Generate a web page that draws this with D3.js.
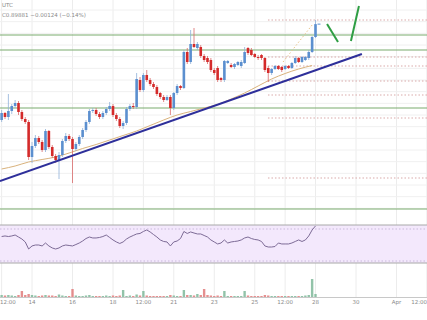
<!DOCTYPE html>
<html>
<head>
<meta charset="utf-8">
<script src="https://cdn.jsdelivr.net/npm/d3@7"></script>
<style>
body { margin: 0; background: #fff; overflow: hidden; }
text { font-family: "DejaVu Sans", sans-serif; }
</style>
</head>
<body>
<svg id="chart"></svg>
<script>
var w = 427;
var h = 320;

// 4h candles, first one 12 Mar 12:00 UTC
var firstCandle = "2023-03-12T12:00Z";
var candleHours = 4;

var opens = [0.755, 0.7655, 0.7595, 0.7685, 0.776, 0.7805, 0.767, 0.7565, 0.752, 0.6995,
  0.716, 0.728, 0.722, 0.710, 0.7385, 0.7145, 0.701, 0.695, 0.7025, 0.7235,
  0.731, 0.7265, 0.7115, 0.719, 0.7295, 0.740, 0.752, 0.7685, 0.770, 0.764,
  0.7595, 0.7655, 0.7715, 0.776, 0.7625, 0.7565, 0.746, 0.7505, 0.7715, 0.776,
  0.7745, 0.815, 0.800, 0.8225, 0.815, 0.809, 0.8045, 0.7955, 0.7895, 0.785,
  0.7895, 0.773, 0.7955, 0.806, 0.803, 0.857, 0.842, 0.869, 0.863, 0.8645,
  0.851, 0.848, 0.845, 0.830, 0.833, 0.818, 0.815, 0.8405, 0.8375, 0.8345,
  0.8375, 0.836, 0.8405, 0.863, 0.860, 0.854, 0.8495, 0.8525, 0.848, 0.833,
  0.8255, 0.8315, 0.836, 0.8345, 0.8315, 0.836, 0.833, 0.8405, 0.848, 0.842,
  0.845, 0.848, 0.857, 0.8795];
var highs = [0.770, 0.767, 0.794, 0.779, 0.785, 0.7835, 0.770, 0.7595, 0.755, 0.722,
  0.7325, 0.731, 0.725, 0.7415, 0.740, 0.7175, 0.704, 0.707, 0.7265, 0.7355,
  0.734, 0.7295, 0.722, 0.7325, 0.743, 0.755, 0.7715, 0.773, 0.773, 0.767,
  0.7685, 0.7745, 0.782, 0.779, 0.7655, 0.7595, 0.7535, 0.7745, 0.779, 0.7805,
  0.8255, 0.8195, 0.8255, 0.830, 0.818, 0.812, 0.8075, 0.797, 0.7925, 0.7925,
  0.7925, 0.797, 0.809, 0.8075, 0.860, 0.863, 0.890, 0.893, 0.872, 0.8675,
  0.854, 0.851, 0.848, 0.833, 0.836, 0.8195, 0.845, 0.845, 0.8405, 0.8405,
  0.8435, 0.845, 0.8645, 0.8645, 0.863, 0.8555, 0.8525, 0.854, 0.8495, 0.836,
  0.833, 0.8375, 0.8375, 0.836, 0.8375, 0.8375, 0.842, 0.851, 0.8495, 0.851,
  0.851, 0.860, 0.881, 0.905];
var lows = [0.752, 0.7565, 0.755, 0.764, 0.773, 0.7625, 0.7535, 0.749, 0.695, 0.6905,
  0.713, 0.719, 0.707, 0.707, 0.7115, 0.698, 0.6905, 0.6665, 0.6995, 0.7205,
  0.7235, 0.6605, 0.7085, 0.716, 0.7265, 0.737, 0.749, 0.7655, 0.761, 0.7565,
  0.7565, 0.7625, 0.7685, 0.7595, 0.7535, 0.743, 0.7415, 0.7475, 0.7685, 0.7715,
  0.7715, 0.797, 0.797, 0.812, 0.806, 0.8015, 0.791, 0.7865, 0.782, 0.7835,
  0.7625, 0.770, 0.7925, 0.800, 0.8015, 0.839, 0.839, 0.863, 0.860, 0.848,
  0.842, 0.839, 0.827, 0.8225, 0.812, 0.812, 0.812, 0.839, 0.833, 0.8315,
  0.836, 0.833, 0.839, 0.8525, 0.851, 0.848, 0.845, 0.845, 0.827, 0.812,
  0.8225, 0.830, 0.830, 0.827, 0.830, 0.8315, 0.8315, 0.839, 0.8405, 0.8405,
  0.8435, 0.845, 0.8555, 0.878];
var closes = [0.7655, 0.7595, 0.7685, 0.776, 0.7805, 0.767, 0.7565, 0.752, 0.6995, 0.716,
  0.728, 0.722, 0.710, 0.7385, 0.7145, 0.701, 0.695, 0.7025, 0.7235, 0.731,
  0.7265, 0.7115, 0.719, 0.7295, 0.740, 0.752, 0.7685, 0.770, 0.764, 0.7595,
  0.7655, 0.7715, 0.776, 0.7625, 0.7565, 0.746, 0.7505, 0.7715, 0.776, 0.7745,
  0.8165, 0.800, 0.8225, 0.815, 0.809, 0.8045, 0.794, 0.7895, 0.785, 0.7895,
  0.773, 0.7955, 0.806, 0.803, 0.857, 0.842, 0.869, 0.8645, 0.869, 0.851,
  0.845, 0.842, 0.830, 0.8255, 0.815, 0.815, 0.8435, 0.8435, 0.8345, 0.839,
  0.842, 0.842, 0.857, 0.8555, 0.8525, 0.8495, 0.848, 0.848, 0.830, 0.8255,
  0.8315, 0.836, 0.8315, 0.830, 0.836, 0.833, 0.8405, 0.848, 0.842, 0.8495,
  0.8495, 0.857, 0.8795, 0.8988];
var volumes = [2, 1.5, 2, 1.5, 1, 2, 6, 2, 3, 2,
  1.5, 1, 1.5, 2, 1.5, 1.5, 1, 2.5, 1.5, 1,
  1, 8, 1.5, 1, 1, 1.5, 2, 1, 1, 1,
  1, 1.5, 1, 1.5, 1, 1.5, 7, 1, 1.5, 1,
  2.5, 1.5, 6, 1.5, 1, 1, 1, 1, 1, 1,
  2, 1.5, 1, 1, 7, 2, 2, 1.5, 3, 2,
  8, 2, 1.5, 1, 1.5, 1, 6, 1, 1, 1,
  1, 1, 6, 1.5, 1, 1, 1, 1, 2, 1.5,
  1, 1, 1, 1, 1, 1, 1, 1, 1, 1,
  1.5, 2, 18, 3];
var rsi = [60.6, 61.3, 60.6, 61.3, 62.5, 60, 57.5, 53.8, 45, 48.8,
  50, 50, 48.8, 52.5, 48.8, 46.3, 45, 46.3, 48.8, 50,
  49.4, 48.8, 50.6, 52.5, 55, 58.1, 60, 58.8, 58.8, 59.4,
  60.6, 62.5, 59.4, 56.3, 53.8, 51.9, 53.8, 57.5, 60, 61.9,
  63.8, 64.4, 66.9, 68.8, 66.3, 63.1, 60, 56.3, 54.4, 53.8,
  48.8, 53.8, 55, 58.1, 66.9, 64.4, 66.3, 65, 63.8, 63.8,
  61.9, 60, 56.3, 53.8, 51.3, 52.5, 56.3, 52.5, 53.8, 54.4,
  55, 56.3, 58.8, 60, 58.1, 56.9, 56.3, 54.4, 48.8, 47.5,
  47.5, 48.1, 52.5, 51.3, 51.3, 51.3, 52.5, 54.4, 56.3, 54.4,
  56.3, 61.3, 68.8, 73.8];

// moving average, read every 4th candle
var maIndex = [0, 4, 8, 12, 16, 20, 24, 28, 32, 36, 40, 44, 48, 52, 56, 60, 64, 68, 72, 76, 80, 84, 88, 92];
var maValues = [0.6815, 0.686, 0.692, 0.69575, 0.6995, 0.7055, 0.71225, 0.71825, 0.725, 0.73175,
  0.7385, 0.74675, 0.755, 0.7625, 0.76775, 0.773, 0.77825, 0.7865, 0.7955, 0.806,
  0.8165, 0.82475, 0.8315, 0.83675];

// drawings
var greenLevels = [0.8825, 0.860, 0.773, 0.6215];
var fibStart = "2023-03-25T15:40Z";
var fibLevels = [0.905, 0.8495, 0.836, 0.8135, 0.7925, 0.758, 0.668];
var trendLine = [["2023-03-12T10:00Z", 0.6635], ["2023-03-30T07:00Z", 0.854]];
var dotLine = [["2023-03-26T09:30Z", 0.842], ["2023-03-27T20:00Z", 0.8975]];
var arrowDown = [["2023-03-28T13:40Z", 0.899], ["2023-03-29T02:40Z", 0.872]];
var arrowUp = [["2023-03-29T18:00Z", 0.8735], ["2023-03-30T03:30Z", 0.926]];

var tickDates = ["2023-03-12T12:00Z", "2023-03-14T00:00Z", "2023-03-16T00:00Z", "2023-03-18T00:00Z",
  "2023-03-19T12:00Z", "2023-03-21T00:00Z", "2023-03-23T00:00Z", "2023-03-25T00:00Z",
  "2023-03-26T12:00Z", "2023-03-28T00:00Z", "2023-03-30T00:00Z", "2023-04-01T00:00Z", "2023-04-02T12:00Z"];
var tickLabels = ["12:00", "14", "16", "18", "12:00", "21", "23", "25", "12:00", "28", "30", "Apr", "12:00"];

var svg, x, y, yRsi, yVol;

drawChart();

function candleDate(i) {
    return new Date(new Date(firstCandle).getTime() + i * candleHours * 3600 * 1000);
}

function drawChart() {
    svg = d3.select("#chart")
        .attr("width", w)
        .attr("height", h);

    svg.append("rect")
        .attr("width", w)
        .attr("height", h)
        .attr("fill", "#fff");

    x = d3.scaleUtc()
        .domain([new Date("2023-03-14T00:00Z"), new Date("2023-04-01T00:00Z")])
        .range([32, 396.5]);
    y = d3.scaleLinear().domain([0.62, 0.935]).range([210, 0]);
    yRsi = d3.scaleLinear().domain([27.5, 75]).range([263, 225]);
    yVol = d3.scaleLinear().domain([0, 20]).range([297, 277]);

    // grid
    var grid = svg.append("g");
    grid.selectAll(".vg")
        .data(tickDates)
        .enter().append("line")
        .attr("x1", function(d) { return x(new Date(d)); })
        .attr("x2", function(d) { return x(new Date(d)); })
        .attr("y1", 0)
        .attr("y2", 297)
        .attr("stroke", "#ececec")
        .attr("stroke-width", 1);
    grid.selectAll(".hg")
        .data(d3.range(0.6225, 0.93, 0.0175))
        .enter().append("line")
        .attr("x1", 0)
        .attr("x2", w)
        .attr("y1", function(d) { return y(d); })
        .attr("y2", function(d) { return y(d); })
        .attr("stroke", "#f0f0f0")
        .attr("stroke-width", 1);

    // horizontal green levels
    svg.selectAll(".lvl")
        .data(greenLevels)
        .enter().append("line")
        .attr("x1", 0)
        .attr("x2", w)
        .attr("y1", function(d) { return y(d); })
        .attr("y2", function(d) { return y(d); })
        .attr("stroke", "#7bab6e")
        .attr("stroke-width", 1.2);

    // dotted levels on the right
    svg.selectAll(".fib")
        .data(fibLevels)
        .enter().append("line")
        .attr("x1", x(new Date(fibStart)))
        .attr("x2", w)
        .attr("y1", function(d) { return y(d); })
        .attr("y2", function(d) { return y(d); })
        .attr("stroke", "#d9a9a9")
        .attr("stroke-width", 1)
        .attr("stroke-dasharray", "1.5,2");

    var lineGen = d3.line()
        .x(function(d) { return x(new Date(d[0])); })
        .y(function(d) { return y(d[1]); });

    // moving average
    var maLine = d3.line()
        .x(function(d, i) { return x(candleDate(maIndex[i])); })
        .y(function(d) { return y(d); })
        .curve(d3.curveMonotoneX);
    svg.append("path")
        .attr("d", maLine(maValues))
        .attr("fill", "none")
        .attr("stroke", "#d9b27c")
        .attr("stroke-width", 1);

    svg.append("path")
        .attr("d", lineGen(dotLine))
        .attr("fill", "none")
        .attr("stroke", "#e8c48a")
        .attr("stroke-width", 1)
        .attr("stroke-dasharray", "1.5,2");

    // candles
    var bw = 2.6;
    var candles = svg.append("g");
    for (var i = 0; i < closes.length; i++) {
        var up = closes[i] >= opens[i];
        var col = up ? "#5b8fcf" : "#d42a2a";
        var cx = x(candleDate(i));
        candles.append("line")
            .attr("x1", cx).attr("x2", cx)
            .attr("y1", y(highs[i])).attr("y2", y(lows[i]))
            .attr("stroke", up ? "#8fb0d8" : "#d96a6a")
            .attr("stroke-width", 0.8);
        candles.append("rect")
            .attr("x", cx - bw / 2)
            .attr("y", y(Math.max(opens[i], closes[i])))
            .attr("width", bw)
            .attr("height", Math.max(1, Math.abs(y(opens[i]) - y(closes[i]))))
            .attr("fill", col);
    }
    var last = closes.length - 1;
    svg.append("line")
        .attr("x1", x(candleDate(last)) + 2)
        .attr("x2", x(candleDate(last)) + 5)
        .attr("y1", y(closes[last]))
        .attr("y2", y(closes[last]))
        .attr("stroke", "#5b8fcf")
        .attr("stroke-width", 1);

    // trend line
    svg.append("path")
        .attr("d", lineGen(trendLine))
        .attr("fill", "none")
        .attr("stroke", "#2e2f9a")
        .attr("stroke-width", 2);

    // projected path
    svg.selectAll(".arrow")
        .data([arrowDown, arrowUp])
        .enter().append("path")
        .attr("d", function(d) { return lineGen(d); })
        .attr("fill", "none")
        .attr("stroke", "#2f9e44")
        .attr("stroke-width", 2);

    // RSI pane
    svg.append("rect")
        .attr("x", 0)
        .attr("y", yRsi(75))
        .attr("width", w)
        .attr("height", yRsi(27.5) - yRsi(75))
        .attr("fill", "#f3e8fc");
    [75, 27.5].forEach(function(v) {
        svg.append("line")
            .attr("x1", 0).attr("x2", w)
            .attr("y1", yRsi(v)).attr("y2", yRsi(v))
            .attr("stroke", "#a8a8a8")
            .attr("stroke-width", 1);
    });
    [70, 30].forEach(function(v) {
        svg.append("line")
            .attr("x1", 0).attr("x2", w)
            .attr("y1", yRsi(v)).attr("y2", yRsi(v))
            .attr("stroke", "#c9b8dc")
            .attr("stroke-width", 1)
            .attr("stroke-dasharray", "1.5,2");
    });
    var rsiLine = d3.line()
        .x(function(d, i) { return x(candleDate(i)); })
        .y(function(d) { return yRsi(d); });
    svg.append("path")
        .attr("d", rsiLine(rsi))
        .attr("fill", "none")
        .attr("stroke", "#7d6b96")
        .attr("stroke-width", 1);

    // volume
    svg.selectAll(".vol")
        .data(volumes)
        .enter().append("rect")
        .attr("x", function(d, i) { return x(candleDate(i)) - 1.2; })
        .attr("y", function(d) { return yVol(d); })
        .attr("width", 2.4)
        .attr("height", function(d) { return yVol(0) - yVol(d); })
        .attr("fill", function(d, i) { return closes[i] >= opens[i] ? "#7fb89a" : "#e07b7b"; })
        .attr("opacity", 0.85);

    // x axis
    svg.append("line")
        .attr("x1", 0).attr("x2", w)
        .attr("y1", 297.5).attr("y2", 297.5)
        .attr("stroke", "#c8c8c8")
        .attr("stroke-width", 1);
    var lastTick = tickDates.length - 1;
    svg.selectAll(".tick")
        .data(tickDates)
        .enter().append("text")
        .attr("x", function(d, i) {
            if (i == 0) return 0;
            if (i == lastTick) return w;
            return x(new Date(d));
        })
        .attr("y", 303.5)
        .attr("text-anchor", function(d, i) {
            if (i == 0) return "start";
            if (i == lastTick) return "end";
            return "middle";
        })
        .attr("font-size", 5.5)
        .attr("fill", "#8a8a8a")
        .text(function(d, i) { return tickLabels[i]; });

    // header
    svg.append("text")
        .attr("x", 2).attr("y", 7)
        .attr("font-size", 5.5)
        .attr("fill", "#8a8a8a")
        .text("UTC");
    svg.append("text")
        .attr("x", 2).attr("y", 16.5)
        .attr("font-size", 5.5)
        .attr("fill", "#8a8a8a")
        .text("C0.89881  \u22120.00124 (\u22120.14%)");
}
</script>
</body>
</html>
